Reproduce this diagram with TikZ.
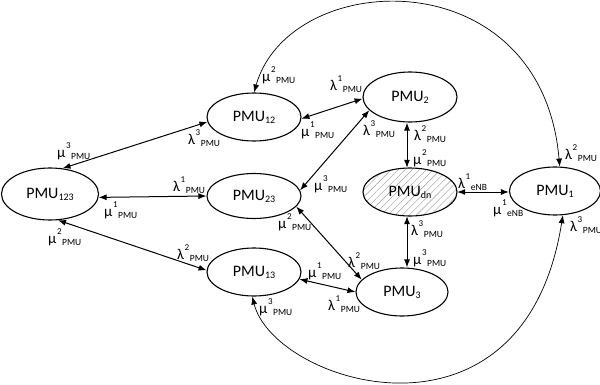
\documentclass[tikz,border=0pt]{standalone}
\usepackage{fontspec}
\setmainfont{Carlito}
\usetikzlibrary{arrows.meta,shapes.geometric,patterns.meta}
\newcommand{\pmunode}[1]{PMU\raisebox{-2pt}{\fontsize{10}{10}\selectfont #1}}
\newcommand{\rlab}[3]{{\fontsize{15}{15}\selectfont #1}\hspace{0.6pt}\raisebox{8.5pt}{\fontsize{9}{9}\selectfont #2}\hspace{0.6pt}\raisebox{-2pt}{\fontsize{9.5}{10}\selectfont #3}}
\begin{document}
\begin{tikzpicture}[x=1pt,y=1pt,
  st/.style={ellipse, draw, line width=1.1pt, minimum width=94pt, minimum height=48pt, inner sep=0pt, font=\fontsize{16}{16}\selectfont},
  lk/.style={arrows={Latex[length=8pt,width=6pt]-Latex[length=8pt,width=6pt]}, line width=1pt},
  ck/.style={arrows={Latex[length=8pt,width=6pt]-Latex[length=8pt,width=6pt]}, line width=0.7pt},
  lb/.style={anchor=base west, inner sep=0pt}]
\useasboundingbox (0,0) rectangle (600,384);
% states
\node[st, minimum width=97pt, minimum height=52pt] (p123) at (50,190) {\pmunode{123}};
\node[st] (p12) at (254,267) {\pmunode{12}};
\node[st, minimum height=45pt] (p23) at (254,188) {\pmunode{23}};
\node[st] (p13) at (254,112) {\pmunode{13}};
\node[st, minimum height=50pt] (p2) at (410,287) {\pmunode{2}};
\node[st, pattern={Lines[angle=45,distance=5pt,line width=0.4pt]}, pattern color=gray!80] (pdn) at (410,192) {\pmunode{dn}};
\node[st, minimum width=91pt] (p1) at (555,193) {\pmunode{1}};
\node[st, minimum width=92pt] (p3) at (402,92) {\pmunode{3}};
% transitions
\draw[lk] (p123.64) -- (p12.186);
\draw[lk] (p123.356) -- (p23.west);
\draw[lk] (p123.287) -- (p13.178);
\draw[lk] (p12.358) -- (p2.182);
\draw[lk] (p23.7) -- (p2.198);
\draw[lk] (p23.346) -- (p3.163);
\draw[lk] (p13.351) -- (p3.west);
\draw[lk] ([xshift=-3pt]p2.south) -- ([xshift=-3pt]pdn.north);
\draw[lk] ([xshift=-3pt]pdn.south) -- ([xshift=5pt]p3.north);
\draw[lk] (pdn.east) -- (pdn.east -| p1.west);
\draw[ck] (p12.north) .. controls +(74:130) and +(95:210) .. (p1.79);
\draw[ck] (p13.266) .. controls +(284:90) and +(261:250) .. (p1.288);
% rates
\node[lb] (l1) at (57,227) {\rlab{μ}{3}{PMU}};
\node[lb] (l2) at (188,240) {\rlab{λ}{3}{PMU}};
\node[lb] (l3) at (173,193) {\rlab{λ}{1}{PMU}};
\node[lb] (l4) at (104,168) {\rlab{μ}{1}{PMU}};
\node[lb] (l5) at (48,141) {\rlab{μ}{2}{PMU}};
\node[lb] (l6) at (177,125) {\rlab{λ}{2}{PMU}};
\node[lb] (l7) at (262,303) {\rlab{μ}{2}{PMU}};
\node[lb] (l8) at (330,294) {\rlab{λ}{1}{PMU}};
\node[lb] (l9) at (301,248) {\rlab{μ}{1}{PMU}};
\node[lb] (l10) at (363,249) {\rlab{λ}{3}{PMU}};
\node[lb] (l11) at (314,194) {\rlab{μ}{3}{PMU}};
\node[lb] (l12) at (414,244) {\rlab{λ}{2}{PMU}};
\node[lb] (l13) at (413,220) {\rlab{μ}{2}{PMU}};
\node[lb] (l14) at (458,196) {\rlab{λ}{1}{eNB}};
\node[lb] (l15) at (493,170) {\rlab{μ}{1}{eNB}};
\node[lb] (l16) at (565,225) {\rlab{λ}{2}{PMU}};
\node[lb] (l17) at (570,153) {\rlab{λ}{3}{PMU}};
\node[lb] (l18) at (411,149) {\rlab{λ}{3}{PMU}};
\node[lb] (l19) at (413,120) {\rlab{μ}{3}{PMU}};
\node[lb] (l20) at (278,156) {\rlab{μ}{2}{PMU}};
\node[lb] (l21) at (348,117) {\rlab{λ}{2}{PMU}};
\node[lb] (l22) at (308,107) {\rlab{μ}{1}{PMU}};
\node[lb] (l23) at (328,74) {\rlab{λ}{1}{PMU}};
\node[lb] (l24) at (259,71) {\rlab{μ}{3}{PMU}};
\end{tikzpicture}
\end{document}
